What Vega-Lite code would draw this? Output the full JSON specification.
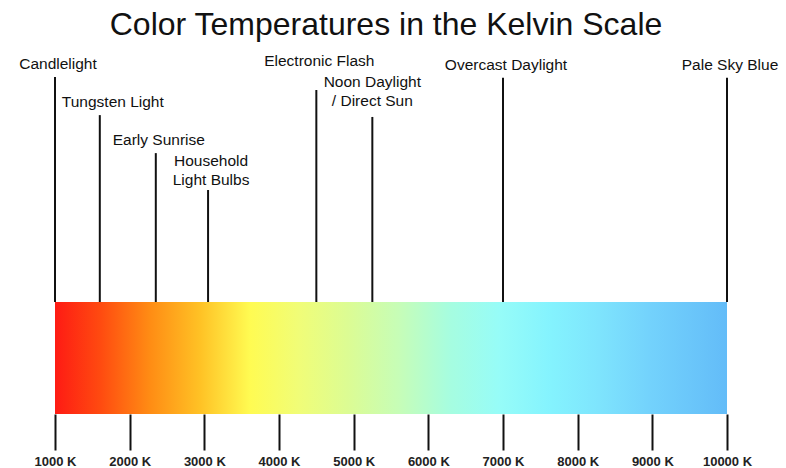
{
  "$schema": "https://vega.github.io/schema/vega-lite/v6.json",
  "width": 672,
  "height": 369,
  "autosize": {"type": "none"},
  "padding": {"left": 55, "right": 59, "top": 45, "bottom": 54},
  "background": "white",
  "title": {
    "text": "Color Temperatures in the Kelvin Scale",
    "font": "Liberation Sans",
    "fontSize": 32,
    "fontWeight": "normal",
    "color": "#111111",
    "anchor": "middle",
    "dx": -5,
    "offset": 3.5
  },
  "config": {"view": {"stroke": null}},
  "datasets": {
    "events": [
      {"label": "Candlelight", "kelvin": 1000, "top": 91.3, "base": 30.35, "group": "a"},
      {"label": "Tungsten Light", "kelvin": 1600, "top": 81.0, "base": 30.35, "group": "b"},
      {"label": "Early Sunrise", "kelvin": 2350, "top": 70.7, "base": 30.35, "group": "a"},
      {"label": ["Household", "Light Bulbs"], "kelvin": 3050, "top": 60.7, "base": 30.35, "group": "c"},
      {"label": "Electronic Flash", "kelvin": 4500, "top": 87.8, "base": 30.35, "group": "c"},
      {"label": ["Noon Daylight", "/ Direct Sun"], "kelvin": 5250, "top": 80.5, "base": 30.35, "group": "d"},
      {"label": "Overcast Daylight", "kelvin": 7000, "top": 91.1, "base": 30.35, "group": "a"},
      {"label": "Pale Sky Blue", "kelvin": 10000, "top": 91.1, "base": 30.35, "group": "a"}
    ],
    "band": [{"from": 1000, "to": 10000, "low": 0, "high": 30.35}]
  },
  "layer": [
    {
      "data": {"name": "band"},
      "mark": {
        "type": "rect",
        "fill": {
          "gradient": "linear",
          "x1": 0, "x2": 1, "y1": 0, "y2": 0,
          "stops": [
            {"offset": 0, "color": "#fe1b14"},
            {"offset": 0.067, "color": "#ff4a10"},
            {"offset": 0.141, "color": "#ff8c14"},
            {"offset": 0.216, "color": "#ffc225"},
            {"offset": 0.29, "color": "#fffb52"},
            {"offset": 0.364, "color": "#f0fd78"},
            {"offset": 0.439, "color": "#dbfc95"},
            {"offset": 0.513, "color": "#c6fdb8"},
            {"offset": 0.588, "color": "#a6fde0"},
            {"offset": 0.662, "color": "#96fcf8"},
            {"offset": 0.737, "color": "#84f3fe"},
            {"offset": 0.81, "color": "#7ee4fd"},
            {"offset": 0.885, "color": "#73d2fc"},
            {"offset": 1, "color": "#63bcf8"}
          ]
        }
      },
      "encoding": {
        "x": {
          "field": "from", "type": "quantitative",
          "scale": {"domain": [1000, 10000], "nice": false, "zero": false},
          "axis": {
            "title": null,
            "values": [1000, 2000, 3000, 4000, 5000, 6000, 7000, 8000, 9000, 10000],
            "labelExpr": "datum.value + ' K'",
            "domain": false,
            "grid": false,
            "tickSize": 36,
            "tickWidth": 2,
            "tickColor": "#111111",
            "labelFont": "Liberation Sans",
            "labelFontSize": 13,
            "labelFontWeight": "bold",
            "labelColor": "#222222",
            "labelPadding": 5,
            "labelOverlap": false,
            "labelFlush": false
          }
        },
        "x2": {"field": "to"},
        "y": {
          "field": "low", "type": "quantitative",
          "scale": {"domain": [0, 100], "nice": false},
          "axis": null
        },
        "y2": {"field": "high"}
      }
    },
    {
      "data": {"name": "events"},
      "mark": {"type": "rule", "color": "#111111", "strokeWidth": 2},
      "encoding": {
        "x": {"field": "kelvin", "type": "quantitative"},
        "y": {"field": "base", "type": "quantitative"},
        "y2": {"field": "top"}
      }
    },
    {
      "data": {"name": "events"},
      "transform": [{"filter": "datum.group == 'a'"}],
      "mark": {
        "type": "text", "baseline": "bottom", "align": "center",
        "dy": -5, "dx": 3,
        "font": "Liberation Sans", "fontSize": 15.5, "lineHeight": 19, "color": "#111111"
      },
      "encoding": {
        "x": {"field": "kelvin", "type": "quantitative"},
        "y": {"field": "top", "type": "quantitative"},
        "text": {"field": "label", "type": "nominal"}
      }
    },
    {
      "data": {"name": "events"},
      "transform": [{"filter": "datum.group == 'b'"}],
      "mark": {
        "type": "text", "baseline": "bottom", "align": "center",
        "dy": -5, "dx": 13,
        "font": "Liberation Sans", "fontSize": 15.5, "lineHeight": 19, "color": "#111111"
      },
      "encoding": {
        "x": {"field": "kelvin", "type": "quantitative"},
        "y": {"field": "top", "type": "quantitative"},
        "text": {"field": "label", "type": "nominal"}
      }
    },
    {
      "data": {"name": "events"},
      "transform": [{"filter": "datum.group == 'c'"}],
      "mark": {
        "type": "text", "baseline": "bottom", "align": "center",
        "dy": -20.7, "dx": 3,
        "font": "Liberation Sans", "fontSize": 15.5, "lineHeight": 19, "color": "#111111"
      },
      "encoding": {
        "x": {"field": "kelvin", "type": "quantitative"},
        "y": {"field": "top", "type": "quantitative"},
        "text": {"field": "label", "type": "nominal"}
      }
    },
    {
      "data": {"name": "events"},
      "transform": [{"filter": "datum.group == 'd'"}],
      "mark": {
        "type": "text", "baseline": "bottom", "align": "center",
        "dy": -26.7, "dx": 0,
        "font": "Liberation Sans", "fontSize": 15.5, "lineHeight": 19, "color": "#111111"
      },
      "encoding": {
        "x": {"field": "kelvin", "type": "quantitative"},
        "y": {"field": "top", "type": "quantitative"},
        "text": {"field": "label", "type": "nominal"}
      }
    }
  ]
}
